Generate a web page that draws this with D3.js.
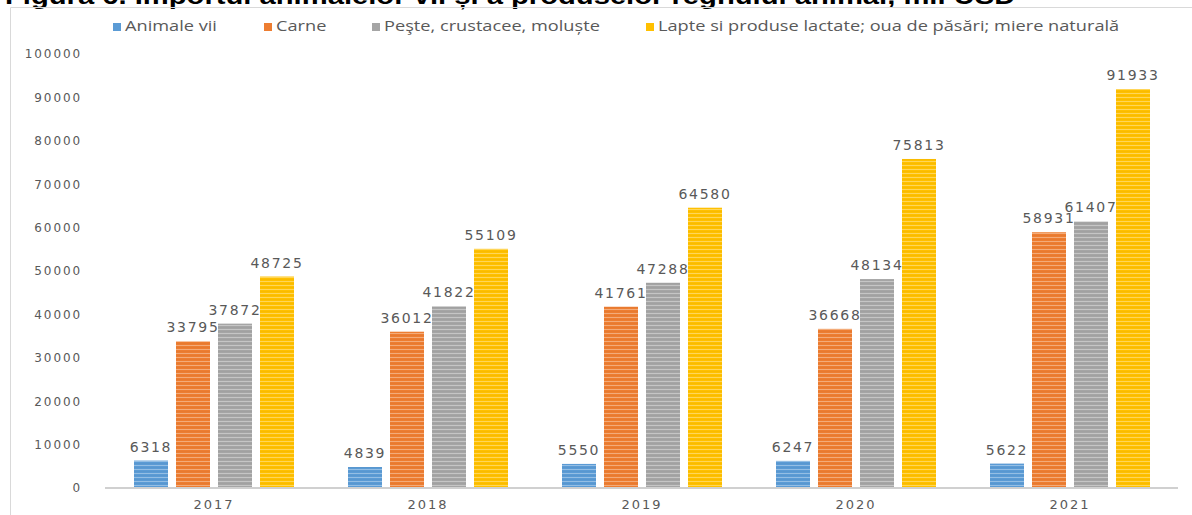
<!DOCTYPE html>
<html><head><meta charset="utf-8">
<script src="https://cdn.jsdelivr.net/npm/d3@7"></script>
<style>
html,body{margin:0;padding:0;background:#fff;}
svg{display:block;}
</style></head>
<body>
<svg id="chart" width="1192" height="515"></svg>
<script>
// ---- data ----
const years = ["2017", "2018", "2019", "2020", "2021"];
const seriesNames = ["Animale vii", "Carne", "Peşte, crustacee, moluște", "Lapte si produse lactate; oua de păsări; miere naturală"];
const animaleVii = [6318, 4839, 5550, 6247, 5622];
const carne = [33795, 36012, 41761, 36668, 58931];
const peste = [37872, 41822, 47288, 48134, 61407];
const lapte = [48725, 55109, 64580, 75813, 91933];
const yTicks = [0, 10000, 20000, 30000, 40000, 50000, 60000, 70000, 80000, 90000, 100000];
const titleText = "Figura 6. Importul animalelor vii și a produselor regnului animal, mil USD";

// ---- layout / styles ----
const colors = ["#5B9BD5", "#ED7D31", "#A5A5A5", "#FFC000"];
const legendTextX = [125, 276, 384, 658];
const stretch = 1.3; // the reference is horizontally stretched
const seriesValues = [animaleVii, carne, peste, lapte];

const svg = d3.select("#chart");

// stripe patterns
const defs = svg.append("defs");
colors.forEach((c, i) => {
  const light = d3.interpolateRgb(c, "#ffffff")(0.35);
  const dark = d3.interpolateRgb(c, "#000000")(0.04);
  const p = defs.append("pattern").attr("id", "pat" + i)
    .attr("patternUnits", "userSpaceOnUse").attr("width", 8).attr("height", 4);
  p.append("rect").attr("width", 8).attr("height", 4).attr("fill", c);
  p.append("rect").attr("y", 1).attr("width", 8).attr("height", 1).attr("fill", light);
  p.append("rect").attr("y", 3).attr("width", 8).attr("height", 0.6).attr("fill", dark);
});

// title (cut off at top)
svg.append("text").attr("transform", `translate(5,4) scale(1.27,1)`)
  .attr("font-family", "Liberation Sans, Arial, sans-serif")
  .attr("font-weight", "bold").attr("font-size", 23).attr("fill", "#000")
  .text(titleText);

// frame
svg.append("line").attr("x1", 10.5).attr("x2", 1192).attr("y1", 7.5).attr("y2", 7.5)
  .attr("stroke", "#d9d9d9").attr("stroke-width", 1);
svg.append("line").attr("x1", 10.5).attr("x2", 10.5).attr("y1", 7.5).attr("y2", 515)
  .attr("stroke", "#d9d9d9").attr("stroke-width", 1);

// scales
const y = d3.scaleLinear().domain([0, 100000]).range([488, 54]);
const x0 = d3.scaleBand().domain(years).range([107, 1177]).padding(0);
const groupW = 160;
const x1 = d3.scaleBand().domain(d3.range(4)).range([0, groupW]).paddingInner(8 / 42).paddingOuter(0);

// y tick labels
const yAxis = d3.axisLeft(y).tickValues(yTicks).tickSize(0).tickPadding(0).tickFormat(d3.format("d"));
const ya = svg.append("g").attr("transform", "translate(82,0)").call(yAxis);
ya.select(".domain").remove();
ya.selectAll("text").attr("font-family", "DejaVu Sans, Verdana, sans-serif")
  .attr("font-size", 12).attr("fill", "#595959").attr("letter-spacing", "1.9px");

// bars
const groups = svg.append("g").selectAll("g").data(years).join("g")
  .attr("transform", d => `translate(${x0(d) + (x0.bandwidth() - groupW) / 2},0)`);

groups.each(function (yr, yi) {
  const g = d3.select(this);
  seriesValues.forEach((vals, si) => {
    const v = vals[yi];
    g.append("rect")
      .attr("x", x1(si)).attr("width", x1.bandwidth())
      .attr("y", y(v)).attr("height", y(0) - y(v))
      .attr("fill", `url(#pat${si})`);
    g.append("text")
      .attr("x", x1(si) + x1.bandwidth() / 2).attr("y", y(v) - 9)
      .attr("text-anchor", "middle")
      .attr("font-family", "DejaVu Sans, Verdana, sans-serif")
      .attr("font-size", 14).attr("letter-spacing", "1.7px")
      .attr("fill", "#595959").text(v);
  });
});

// x axis
const xAxis = d3.axisBottom(x0).tickSize(0).tickPadding(12);
const xa = svg.append("g").attr("transform", `translate(0,${y(0)})`).call(xAxis);
xa.select(".domain").attr("d", "M105,0H1178").attr("stroke", "#d0d0d0").attr("stroke-width", 2);
xa.selectAll("text").attr("font-family", "DejaVu Sans, Verdana, sans-serif")
  .attr("font-size", 13).attr("fill", "#595959").attr("letter-spacing", "2px");

// legend
const leg = svg.append("g").selectAll("g").data(seriesNames).join("g")
  .attr("transform", (d, i) => `translate(${legendTextX[i]},0)`);
leg.append("rect").attr("x", -12).attr("y", 23).attr("width", 8).attr("height", 8)
  .attr("fill", (d, i) => colors[i]);
leg.append("text").attr("transform", `translate(0,31) scale(${stretch},1)`)
  .attr("font-family", "Open Sans, sans-serif").attr("font-size", 14)
  .attr("fill", "#595959").text(d => d);
</script>
</body></html>
